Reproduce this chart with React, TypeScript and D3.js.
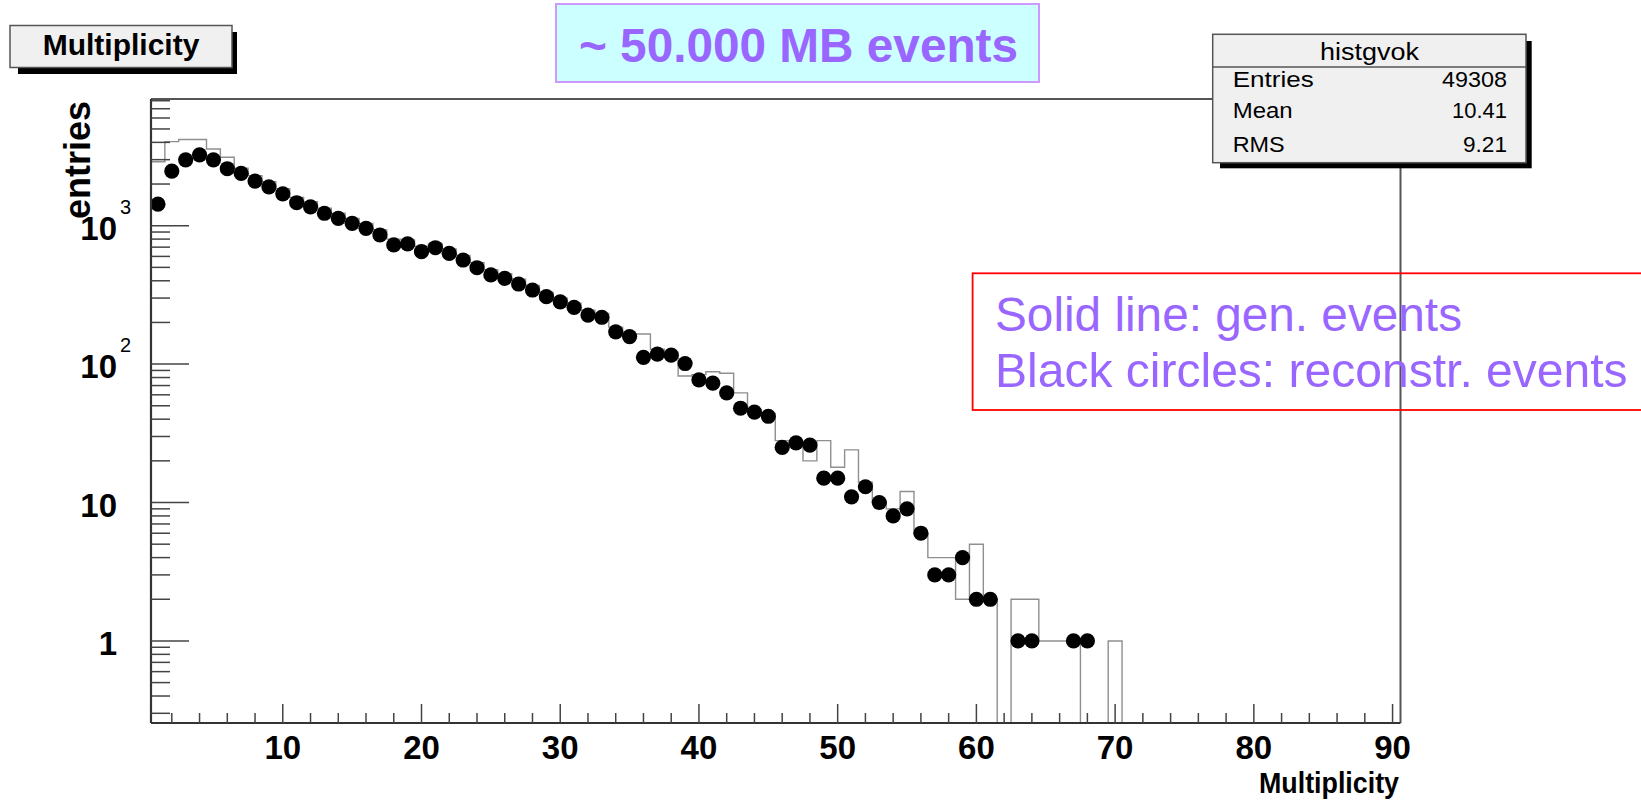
import React from 'react';
import * as d3 from 'd3';

// Reconstructed events (black circles), bins 1..68 (bin width 1, centred on integers)
const recoCounts = [
  1430, 2480, 2990, 3250, 2990, 2580, 2390, 2100, 1910, 1700,
  1465, 1370, 1230, 1130, 1040, 957, 857, 726, 738, 649,
  693, 632, 565, 497, 441, 417, 379, 343, 307, 282,
  257, 226, 218, 171, 158, 112, 118, 116, 101, 77,
  73, 62, 48, 45, 42, 25, 27, 26, 15, 15,
  11, 13, 10, 8, 9, 6, 3, 3, 4, 2,
  2, 0, 1, 1, 0, 0, 1, 1,
];

// Generated events (solid line histogram), bins 1..70
const genCounts = [
  2900, 4050, 4200, 4200, 3580, 3120, 2600, 2300, 2080, 1850,
  1600, 1490, 1340, 1230, 1130, 1040, 930, 800, 790, 710,
  740, 680, 610, 540, 480, 450, 410, 370, 330, 300,
  275, 245, 232, 185, 165, 165, 128, 122, 82, 84,
  88, 86, 62, 47, 44, 28, 27, 20, 28, 18,
  24, 14, 10, 9, 12, 6, 4, 4, 2, 5,
  2, 0, 2, 2, 1, 1, 1, 0, 0, 1,
];

const xMajorTicks = [10, 20, 30, 40, 50, 60, 70, 80, 90];
const xMinorStep = 2;
const yMajorTicks = [1, 10, 100, 1000];
const yTickBase = ['1', '10', '10', '10'];
const yTickExp = ['', '', '2', '3'];
const statsTitle = 'histgvok';
const statsLabels = ['Entries', 'Mean', 'RMS'];
const statsValues = ['49308', '10.41', '9.21'];
const legendLines = ['Solid line: gen. events', 'Black circles: reconstr. events'];
const headline = '~ 50.000 MB events';
const histTitle = 'Multiplicity';
const xTitle = 'Multiplicity';
const yTitle = 'entries';

const FONT = '"Liberation Sans", Arial, Helvetica, sans-serif';

export default function App() {
  const W = 1641;
  const H = 802;
  const left = 151, right = 1399.5, top = 99, bottom = 723;
  const x = d3.scaleLinear().domain([0.5, 90.5]).range([left, right]);
  const y = d3.scaleLog().domain([0.2553, 8230]).range([bottom, top]);
  const yc = (v: number) => (v > 0 ? y(v) : bottom);

  // step outline for the generated histogram
  let histPath = `M${x(0.5)},${yc(genCounts[0])}`;
  genCounts.forEach((v, i) => {
    if (i > 0) histPath += `V${yc(v)}`;
    histPath += `H${x(i + 1.5)}`;
  });
  histPath += `V${bottom}`;

  const xMinor = d3.range(xMinorStep, 91, xMinorStep).filter((v) => v % 10 !== 0);
  const [yLo, yHi] = y.domain();
  const yMinor: number[] = [];
  for (let d = -1; d <= 3; d++) {
    for (let m = 2; m <= 9; m++) {
      const v = m * Math.pow(10, d);
      if (v >= yLo && v <= yHi) yMinor.push(v);
    }
  }

  const statsLabelWidths = [81, 60, 52];
  const statsValueWidths = [65, 55, 44];
  const rowY = [87.3, 118.3, 151.7];

  return (
    <svg
      width={W}
      height={H}
      style={{ position: 'absolute', left: 0, top: 0, display: 'block', background: '#fff' }}
      fontFamily={FONT}
    >
      {/* frame top & right */}
      <line x1={left} y1={top} x2={1400.5} y2={top} stroke="#555" strokeWidth={2} />
      <line x1={1400.5} y1={top} x2={1400.5} y2={bottom} stroke="#555" strokeWidth={2} />

      {/* histogram of generated events */}
      <path d={histPath} fill="none" stroke="#8f8f8f" strokeWidth={1.4} />

      {/* reconstructed markers */}
      {recoCounts.map((v, i) =>
        v > 0 ? <circle key={i} cx={x(i + 1)} cy={y(v)} r={7.6} fill="#000" /> : null
      )}

      {/* axes */}
      <line x1={left} y1={top} x2={left} y2={bottom} stroke="#333" strokeWidth={2.2} />
      <line x1={left} y1={bottom} x2={1400.5} y2={bottom} stroke="#333" strokeWidth={2.2} />

      {/* y ticks */}
      {yMajorTicks.map((v) => (
        <line key={'ym' + v} x1={left} x2={left + 38} y1={y(v)} y2={y(v)} stroke="#444" strokeWidth={1.5} />
      ))}
      {yMinor.map((v) => (
        <line key={'yn' + v} x1={left} x2={left + 19} y1={y(v)} y2={y(v)} stroke="#444" strokeWidth={1.5} />
      ))}
      {/* x ticks */}
      {xMajorTicks.map((v) => (
        <line key={'xm' + v} x1={x(v)} x2={x(v)} y1={bottom} y2={bottom - 19} stroke="#444" strokeWidth={1.5} />
      ))}
      {xMinor.map((v) => (
        <line key={'xn' + v} x1={x(v)} x2={x(v)} y1={bottom} y2={bottom - 10} stroke="#444" strokeWidth={1.5} />
      ))}

      {/* x tick labels */}
      {xMajorTicks.map((v) => (
        <text key={'xl' + v} x={x(v)} y={759} textAnchor="middle" fontSize={33} fontWeight="bold" fill="#000">
          {v}
        </text>
      ))}
      {/* y tick labels */}
      {yMajorTicks.map((v, i) => (
        <g key={'yl' + v}>
          <text x={117} y={y(v) + 14} textAnchor="end" fontSize={33} fontWeight="bold" fill="#000">
            {yTickBase[i]}
          </text>
          {yTickExp[i] && (
            <text x={120} y={y(v) - 12} fontSize={20} fill="#000">
              {yTickExp[i]}
            </text>
          )}
        </g>
      ))}

      {/* axis titles */}
      <text x={1399 - 140} y={793} fontSize={30} fontWeight="bold" fill="#000" textLength={140} lengthAdjust="spacingAndGlyphs">
        {xTitle}
      </text>
      <text transform="translate(90,101) rotate(-90)" textAnchor="end" fontSize={36} fontWeight="bold" fill="#000">
        {yTitle}
      </text>

      {/* histogram title box */}
      <rect x={18} y={32} width={219} height={42} fill="#000" />
      <rect x={10} y={25.5} width={222} height={42} fill="#f0f0f0" stroke="#555" strokeWidth={1.5} />
      <text x={121} y={55} textAnchor="middle" fontSize={30} fontWeight="bold" fill="#000">
        {histTitle}
      </text>

      {/* stats box */}
      <rect x={1220} y={41} width={311.7} height={127.3} fill="#000" />
      <rect x={1212.7} y={34.3} width={313.3} height={128.4} fill="#f0f0f0" stroke="#555" strokeWidth={1.5} />
      <text x={1369.5} y={60} textAnchor="middle" fontSize={23} fill="#000" textLength={99} lengthAdjust="spacingAndGlyphs">
        {statsTitle}
      </text>
      <line x1={1212.7} x2={1526} y1={67} y2={67} stroke="#555" strokeWidth={1.5} />
      {statsLabels.map((s, i) => (
        <text key={'sl' + s} x={1232.7} y={rowY[i]} fontSize={22} fill="#000" textLength={statsLabelWidths[i]} lengthAdjust="spacingAndGlyphs">
          {s}
        </text>
      ))}
      {statsValues.map((s, i) => (
        <text key={'sv' + s} x={1507 - statsValueWidths[i]} y={rowY[i]} fontSize={22} fill="#000" textLength={statsValueWidths[i]} lengthAdjust="spacingAndGlyphs">
          {s}
        </text>
      ))}

      {/* headline box */}
      <rect x={556} y={4} width={483} height={78} fill="#ccffff" stroke="#cc99ff" strokeWidth={2} />
      <text x={579} y={62} fontSize={48} fontWeight="bold" fill="#9966ff" textLength={439} lengthAdjust="spacingAndGlyphs">
        {headline}
      </text>

      {/* legend box */}
      <rect x={972.6} y={273.3} width={700} height={136.7} fill="none" stroke="#ff0000" strokeWidth={1.8} />
      <text x={995} y={331} fontSize={48} fill="#9966ff" textLength={467} lengthAdjust="spacingAndGlyphs">
        {legendLines[0]}
      </text>
      <text x={995} y={387.3} fontSize={48} fill="#9966ff" textLength={632.6} lengthAdjust="spacingAndGlyphs">
        {legendLines[1]}
      </text>
    </svg>
  );
}
